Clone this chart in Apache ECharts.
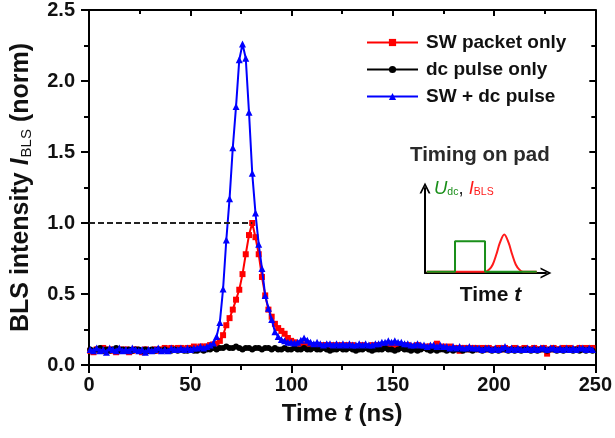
<!DOCTYPE html>
<html>
<head>
<meta charset="utf-8">
<script src="https://cdn.jsdelivr.net/npm/echarts@6/dist/echarts.min.js"></script>
<style>
  html, body { margin: 0; padding: 0; background: #fff; }
  #chart { width: 615px; height: 438px; }
</style>
</head>
<body>
<div id="chart"></div>
<script>
// Sampling grid of the BLS time traces (ns)
const T0 = 0.6;
const DT = 1.6;

// Normalised BLS intensity, SW packet only
const swOnly = [
  0.10,0.09,0.11,0.10,0.12,0.10,0.11,0.10,0.09,0.11,
  0.10,0.11,0.09,0.10,0.11,0.10,0.09,0.11,0.10,0.10,
  0.11,0.10,0.11,0.12,0.11,0.12,0.11,0.12,0.12,0.11,
  0.12,0.12,0.13,0.12,0.13,0.13,0.13,0.14,0.145,0.15,
  0.17,0.21,0.28,0.33,0.39,0.46,0.53,0.64,0.78,0.915,
  1.00,0.90,0.78,0.62,0.49,0.39,0.34,0.29,0.26,0.24,
  0.22,0.19,0.17,0.16,0.15,0.15,0.14,0.15,0.14,0.14,
  0.14,0.13,0.14,0.14,0.13,0.14,0.13,0.14,0.13,0.14,
  0.13,0.14,0.13,0.13,0.14,0.13,0.13,0.14,0.13,0.14,
  0.14,0.13,0.14,0.14,0.13,0.14,0.13,0.13,0.14,0.13,
  0.13,0.14,0.13,0.12,0.13,0.13,0.12,0.15,0.12,0.13,
  0.12,0.13,0.12,0.12,0.10,0.12,0.12,0.11,0.12,0.12,
  0.11,0.12,0.11,0.12,0.11,0.11,0.12,0.11,0.12,0.11,
  0.11,0.12,0.11,0.11,0.12,0.11,0.11,0.12,0.11,0.11,
  0.12,0.08,0.11,0.12,0.11,0.11,0.12,0.11,0.12,0.11,
  0.11,0.12,0.11,0.12,0.11,0.12
];

// Normalised BLS intensity, dc pulse only
const dcOnly = [
  0.11,0.10,0.11,0.12,0.10,0.11,0.10,0.11,0.12,0.10,
  0.11,0.10,0.11,0.10,0.11,0.11,0.10,0.11,0.10,0.11,
  0.10,0.11,0.10,0.11,0.10,0.10,0.11,0.10,0.11,0.10,
  0.10,0.11,0.10,0.10,0.11,0.10,0.11,0.11,0.12,0.11,
  0.12,0.12,0.13,0.12,0.12,0.13,0.12,0.11,0.12,0.12,
  0.11,0.12,0.12,0.11,0.12,0.12,0.11,0.12,0.11,0.11,
  0.12,0.11,0.11,0.12,0.11,0.11,0.12,0.11,0.11,0.12,
  0.11,0.11,0.12,0.11,0.10,0.11,0.11,0.12,0.11,0.11,
  0.12,0.11,0.10,0.11,0.11,0.12,0.11,0.10,0.11,0.11,
  0.11,0.12,0.11,0.11,0.10,0.11,0.12,0.11,0.11,0.10,
  0.11,0.10,0.11,0.12,0.11,0.10,0.11,0.10,0.11,0.11,
  0.10,0.11,0.10,0.11,0.11,0.10,0.11,0.11,0.10,0.11,
  0.11,0.10,0.11,0.11,0.10,0.11,0.10,0.11,0.11,0.10,
  0.11,0.10,0.11,0.10,0.11,0.11,0.10,0.11,0.10,0.11,
  0.11,0.10,0.11,0.11,0.10,0.11,0.10,0.11,0.11,0.10,
  0.11,0.10,0.11,0.10,0.11,0.10
];

// Normalised BLS intensity, SW packet + dc pulse
const swDc = [
  0.11,0.10,0.12,0.10,0.11,0.09,0.12,0.11,0.10,0.12,
  0.10,0.11,0.10,0.12,0.11,0.10,0.11,0.09,0.11,0.10,
  0.11,0.12,0.10,0.11,0.10,0.12,0.11,0.11,0.12,0.11,
  0.12,0.11,0.12,0.12,0.13,0.12,0.13,0.14,0.155,0.20,
  0.30,0.535,0.88,1.17,1.53,1.82,2.15,2.26,2.16,1.78,
  1.35,1.07,0.85,0.68,0.49,0.40,0.32,0.235,0.20,0.18,
  0.17,0.16,0.16,0.155,0.16,0.175,0.19,0.175,0.16,0.15,
  0.16,0.15,0.14,0.15,0.15,0.14,0.15,0.14,0.15,0.14,
  0.15,0.14,0.14,0.15,0.14,0.15,0.14,0.14,0.15,0.15,
  0.16,0.16,0.17,0.16,0.17,0.16,0.16,0.15,0.15,0.14,
  0.14,0.15,0.14,0.14,0.13,0.14,0.14,0.13,0.14,0.13,
  0.13,0.12,0.13,0.12,0.13,0.12,0.12,0.13,0.12,0.12,
  0.12,0.11,0.12,0.12,0.11,0.12,0.11,0.12,0.13,0.11,
  0.12,0.11,0.12,0.11,0.11,0.12,0.11,0.12,0.11,0.12,
  0.12,0.11,0.12,0.12,0.11,0.12,0.11,0.12,0.11,0.12,
  0.11,0.12,0.12,0.11,0.12,0.11
];

// Axis ticks
const xTicks = [0, 50, 100, 150, 200, 250];
const yTicks = [0, 0.5, 1.0, 1.5, 2.0, 2.5];

// Sketch "Timing on pad": dc voltage pulse and BLS response (arbitrary units)
const padPulseT = [1.4, 24.8, 24.8, 49.6, 49.6, 92.3];
const padPulseV = [1.5, 1.5, 37.4, 37.4, 1.5, 1.5];
const padBlsT = [1.4, 49.6, 53, 56, 59, 62, 65.5, 69, 72, 75, 78, 81.2, 92.3];
const padBlsV = [1.5, 1.5, 4, 10, 22, 36, 45.3, 36, 22, 10, 4, 1.5, 1.5];

const FONT = '"Liberation Sans", Arial, Helvetica, sans-serif';
const timeNs = swOnly.map((_, k) => +(T0 + DT * k).toFixed(1));
const pairs = (ts, vs) => ts.map((t, i) => [t, vs[i]]);

const peakV = Math.max(...swOnly);
const peakT = timeNs[swOnly.indexOf(peakV)];

const axisLineStyle = { color: '#000', width: 2 };
const tickStyle = { color: '#000', width: 2 };
const chevron = 'path://M0,10 L5,0 L10,10 L8.3,10 L5,3.3 L1.7,10 Z';

const chart = echarts.init(document.getElementById('chart'), null, { renderer: 'canvas' });

chart.setOption({
  animation: false,
  backgroundColor: '#fff',
  textStyle: { fontFamily: FONT },
  grid: [
    { left: 89, top: 10, width: 510, height: 355 },
    { left: 425, top: 188, width: 121, height: 85 }
  ],
  legend: {
    data: ['SW packet only', 'dc pulse only', 'SW + dc pulse'],
    orient: 'vertical',
    left: 361,
    top: 27,
    itemWidth: 51,
    itemHeight: 9,
    itemGap: 6,
    textStyle: { fontSize: 19, fontWeight: 'bold', color: '#111', fontFamily: FONT, padding: [0, 0, 0, 3], lineHeight: 21 }
  },
  xAxis: [
    {
      gridIndex: 0, type: 'value', position: 'bottom',
      min: xTicks[0], max: xTicks[xTicks.length - 1], interval: xTicks[1] - xTicks[0],
      axisLine: { onZero: false, lineStyle: axisLineStyle },
      axisTick: { inside: false, length: 8, lineStyle: tickStyle },
      minorTick: { show: true, splitNumber: 2, length: 5, lineStyle: tickStyle },
      splitLine: { show: false },
      axisLabel: { margin: 10, fontSize: 20, fontWeight: 'bold', color: '#111', fontFamily: FONT },
      name: '{b|Time }{i|t}{b| (ns)}',
      nameLocation: 'middle',
      nameGap: 37,
      nameTextStyle: {
        rich: {
          b: { fontSize: 24, fontWeight: 'bold', color: '#111', fontFamily: FONT },
          i: { fontSize: 24, fontWeight: 'bold', fontStyle: 'italic', color: '#111', fontFamily: FONT }
        }
      }
    },
    {
      gridIndex: 0, type: 'value', position: 'top',
      min: xTicks[0], max: xTicks[xTicks.length - 1], interval: xTicks[1] - xTicks[0],
      axisLine: { onZero: false, lineStyle: axisLineStyle },
      axisTick: { inside: true, length: 6, lineStyle: tickStyle },
      minorTick: { show: true, splitNumber: 2, length: 4, lineStyle: tickStyle },
      splitLine: { show: false },
      axisLabel: { show: false }
    },
    {
      gridIndex: 1, type: 'value', min: 0, max: 100,
      axisLine: { onZero: false, lineStyle: axisLineStyle, symbol: ['none', chevron], symbolSize: [11, 12] },
      axisTick: { show: false }, axisLabel: { show: false }, splitLine: { show: false },
      name: '{b|Time }{i|t}',
      nameLocation: 'middle',
      nameGap: 12,
      nameTextStyle: {
        padding: [0, 0, 0, 10],
        rich: {
          b: { fontSize: 21, fontWeight: 'bold', color: '#111', fontFamily: FONT },
          i: { fontSize: 21, fontWeight: 'bold', fontStyle: 'italic', color: '#111', fontFamily: FONT }
        }
      }
    }
  ],
  yAxis: [
    {
      gridIndex: 0, type: 'value', position: 'left',
      min: yTicks[0], max: yTicks[yTicks.length - 1], interval: yTicks[1] - yTicks[0],
      axisLine: { onZero: false, lineStyle: axisLineStyle },
      axisTick: { inside: false, length: 8, lineStyle: tickStyle },
      minorTick: { show: true, splitNumber: 2, length: 5, lineStyle: tickStyle },
      splitLine: { show: false },
      axisLabel: {
        margin: 14, fontSize: 20, fontWeight: 'bold', color: '#111', fontFamily: FONT,
        formatter: v => v.toFixed(1)
      },
      name: '{b|BLS intensity }{i|I}{s|BLS}{b| (norm)}',
      nameLocation: 'middle',
      nameGap: 55,
      nameTextStyle: {
        rich: {
          b: { fontSize: 25, fontWeight: 'bold', color: '#111', fontFamily: FONT, lineHeight: 30, verticalAlign: 'bottom' },
          i: { fontSize: 25, fontWeight: 'bold', fontStyle: 'italic', color: '#111', fontFamily: FONT, lineHeight: 30, verticalAlign: 'bottom' },
          s: { fontSize: 15, color: '#111', fontFamily: FONT, lineHeight: 14, verticalAlign: 'bottom', padding: [0, 0, 0, 1] }
        }
      }
    },
    {
      gridIndex: 0, type: 'value', position: 'right',
      min: yTicks[0], max: yTicks[yTicks.length - 1], interval: yTicks[1] - yTicks[0],
      axisLine: { onZero: false, lineStyle: axisLineStyle },
      axisTick: { inside: true, length: 6, lineStyle: tickStyle },
      minorTick: { show: true, splitNumber: 2, length: 4, lineStyle: tickStyle },
      splitLine: { show: false },
      axisLabel: { show: false }
    },
    {
      gridIndex: 1, type: 'value', min: 0, max: 100,
      axisLine: { onZero: false, lineStyle: axisLineStyle, symbol: ['none', chevron], symbolSize: [11, 12] },
      axisTick: { show: false }, axisLabel: { show: false }, splitLine: { show: false }
    }
  ],
  graphic: [
    {
      type: 'text', left: 410, top: 145,
      style: { text: 'Timing on pad', font: 'bold 20.5px ' + FONT, fill: '#2a2a2a' }
    },
    {
      type: 'text', left: 434, top: 179,
      style: {
        text: '{u|U}{s1|dc}{c|, }{u2|I}{s2|BLS}',
        rich: {
          u: { fontSize: 18.5, fontStyle: 'italic', fill: '#1a8f1a', fontFamily: FONT, lineHeight: 22, verticalAlign: 'bottom' },
          s1: { fontSize: 10.5, fill: '#1a8f1a', fontFamily: FONT, lineHeight: 11, verticalAlign: 'bottom' },
          c: { fontSize: 18.5, fill: '#222', fontFamily: FONT, lineHeight: 22, verticalAlign: 'bottom' },
          u2: { fontSize: 18.5, fontStyle: 'italic', fill: '#ff1a1a', fontFamily: FONT, lineHeight: 22, verticalAlign: 'bottom' },
          s2: { fontSize: 10.5, fill: '#ff1a1a', fontFamily: FONT, lineHeight: 11, verticalAlign: 'bottom' }
        }
      }
    }
  ],
  series: [
    {
      name: 'SW packet only', type: 'line', xAxisIndex: 0, yAxisIndex: 0,
      data: pairs(timeNs, swOnly),
      showAllSymbol: true, symbol: 'rect', symbolSize: 6,
      lineStyle: { color: '#ff0000', width: 2 },
      itemStyle: { color: '#ff0000' },
      markLine: {
        silent: true, symbol: 'none', label: { show: false },
        lineStyle: { color: '#222', type: [6, 3], width: 2 },
        data: [[{ coord: [0, peakV] }, { coord: [peakT, peakV] }]]
      },
      z: 2
    },
    {
      name: 'dc pulse only', type: 'line', xAxisIndex: 0, yAxisIndex: 0,
      data: pairs(timeNs, dcOnly),
      showAllSymbol: true, symbol: 'circle', symbolSize: 6,
      lineStyle: { color: '#000', width: 2 },
      itemStyle: { color: '#000' },
      z: 3
    },
    {
      name: 'SW + dc pulse', type: 'line', xAxisIndex: 0, yAxisIndex: 0,
      data: pairs(timeNs, swDc),
      showAllSymbol: true, symbol: 'triangle', symbolSize: 7,
      lineStyle: { color: '#0000ff', width: 2 },
      itemStyle: { color: '#0000ff' },
      z: 4
    },
    {
      name: 'pad BLS', type: 'line', xAxisIndex: 2, yAxisIndex: 2,
      data: pairs(padBlsT, padBlsV),
      smooth: 0.35, symbol: 'none',
      lineStyle: { color: '#ff1a1a', width: 2 }, z: 2
    },
    {
      name: 'pad Udc', type: 'line', xAxisIndex: 2, yAxisIndex: 2,
      data: pairs(padPulseT, padPulseV),
      symbol: 'none',
      lineStyle: { color: '#1a8f1a', width: 2 }, z: 3
    }
  ]
});
</script>
</body>
</html>
